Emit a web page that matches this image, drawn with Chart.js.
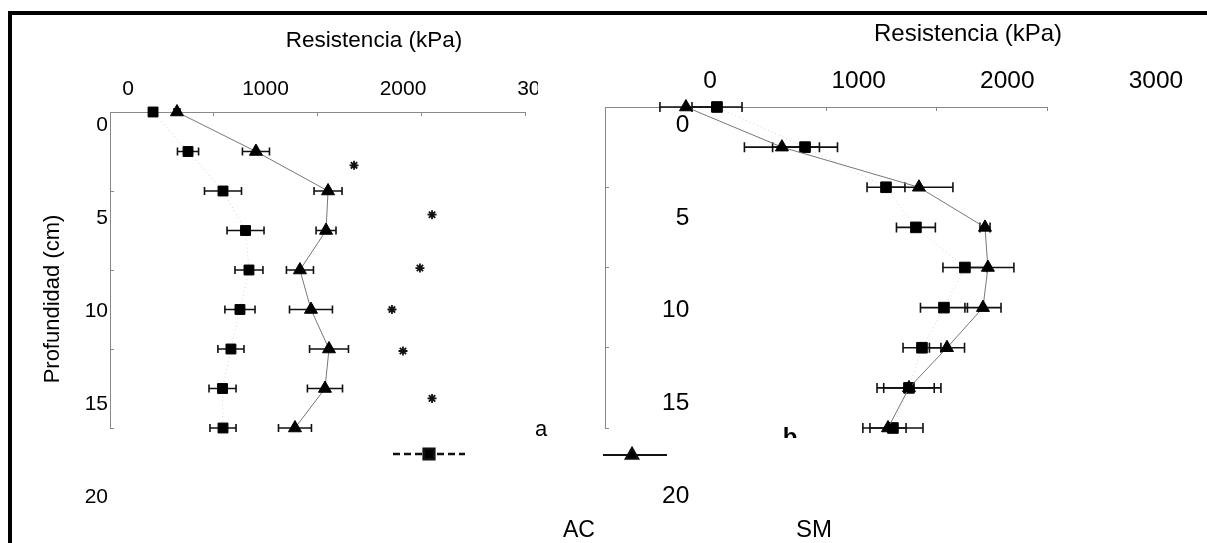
<!DOCTYPE html>
<html>
<head>
<meta charset="utf-8">
<script src="https://cdn.jsdelivr.net/npm/chart.js@4.4.1/dist/chart.umd.min.js"></script>
<style>
  html, body { margin: 0; padding: 0; background: #fff; }
  body { width: 1207px; height: 543px; position: relative; overflow: hidden; }
  #frame { position: absolute; left: 8px; top: 11px; width: 1199px; height: 532px;
           border-top: 4px solid #000; border-left: 4px solid #000; box-sizing: border-box; }
  canvas { position: absolute; }
  #panelA { left: 12px; top: 16px; }
  #panelB { left: 528px; top: 16px; }
</style>
</head>
<body>
<div id="frame"></div>
<canvas id="panelA" width="526" height="527"></canvas>
<canvas id="panelB" width="679" height="527"></canvas>
<script>
// sampling depths (cm), same rows in both panels
const depths = [0, 2, 4, 6, 8, 10, 12, 14, 16];

// panel a - resistance (kPa) and error half-width (kPa)
const aSquare = [363, 658, 953, 1143, 1172, 1096, 1020, 949, 953];
const aSquareErr = [0, 89, 156, 156, 118, 127, 110, 114, 110];
const aTriangle = [565, 1231, 1839, 1822, 1602, 1695, 1847, 1813, 1560];
const aTriangleErr = [25, 114, 118, 84, 114, 181, 164, 148, 139];
// significance marks of panel a
const aStarKpa = [2058, 2716, 2614, 2378, 2471, 2716, 2328];
const aStarDepth = [2.7, 5.2, 7.9, 10.0, 12.1, 14.5, 19.4];

// panel b
const bTriangle = [641, 1401, 2486, 3009, 3032, 2993, 2708, 2407, 2241];
const bTriangleErr = [206, 297, 269, 40, 206, 143, 139, 200, 143];
const bSquare = [887, 1584, 2225, 2462, 2850, 2684, 2510, 2407, 2280];
const bSquareErr = [198, 257, 150, 154, 174, 186, 150, 253, 238];

// printed tick labels (the scanned labels sit off the axis marks)
const kpaLabels = [0, 1000, 2000, 3000];
const depthLabels = [0, 5, 10, 15, 20];

Chart.defaults.font.family = "'Liberation Sans', Arial, sans-serif";
Chart.defaults.color = '#000';

function pts(xs, ys) {
  return xs.map((x, i) => ({ x: x, y: ys[i] }));
}

function fixSize(size) {
  return function (scale) {
    if (scale.isHorizontal()) scale.height = size; else scale.width = size;
    scale.paddingLeft = scale.paddingRight = scale.paddingTop = scale.paddingBottom = 0;
  };
}

function forceTicks(values) {
  return function (scale) {
    scale.ticks = values.map(v => ({ value: v }));
  };
}

// horizontal error bars with caps
const errorBars = {
  id: 'errorBars',
  beforeDatasetsDraw(chart) {
    const ctx = chart.ctx;
    const xs = chart.scales.x, ys = chart.scales.y;
    chart.data.datasets.forEach(ds => {
      if (!ds.errX) return;
      ctx.save();
      ctx.strokeStyle = '#111';
      ctx.lineWidth = 1.6;
      ds.data.forEach((p, j) => {
        const e = ds.errX[j];
        if (!e) return;
        const x0 = xs.getPixelForValue(p.x - e);
        const x1 = xs.getPixelForValue(p.x + e);
        const y = ys.getPixelForValue(p.y);
        const c = ds.capSize || 4;
        ctx.beginPath();
        ctx.moveTo(x0, y); ctx.lineTo(x1, y);
        ctx.moveTo(x0, y - c); ctx.lineTo(x0, y + c);
        ctx.moveTo(x1, y - c); ctx.lineTo(x1, y + c);
        ctx.stroke();
      });
      ctx.restore();
    });
  }
};

// loose text and legend keys of the figure
function figText(items) {
  return {
    id: 'figText',
    afterDraw(chart) {
      const ctx = chart.ctx;
      items.forEach(it => {
        ctx.save();
        if (it.marker) {
          ctx.strokeStyle = '#111';
          ctx.fillStyle = '#000';
          ctx.lineWidth = it.lw;
          ctx.setLineDash(it.dash || []);
          ctx.beginPath();
          ctx.moveTo(it.x0, it.y); ctx.lineTo(it.x1, it.y);
          ctx.stroke();
          ctx.setLineDash([]);
          Chart.helpers.drawPoint(ctx, { pointStyle: it.marker, radius: it.r, rotation: 0, borderWidth: 1 }, it.x, it.y);
        } else {
          if (it.clip) {
            ctx.beginPath();
            ctx.rect(it.clip[0], it.clip[1], it.clip[2], it.clip[3]);
            ctx.clip();
          }
          ctx.fillStyle = '#000';
          ctx.font = (it.weight || 'normal') + ' ' + it.size + "px 'Liberation Sans', Arial, sans-serif";
          ctx.textAlign = 'center';
          ctx.textBaseline = it.base || 'middle';
          ctx.translate(it.x, it.y);
          if (it.rot) ctx.rotate(it.rot * Math.PI / 180);
          ctx.fillText(it.text, 0, 0);
        }
        ctx.restore();
      });
    }
  };
}

const axisLine = { display: true, color: '#888', width: 1 };
const axisMarks = { drawOnChartArea: false, drawTicks: true, tickLength: -4, color: '#888', lineWidth: 1 };
const noGrid = { display: false, drawTicks: false };

function buildScales(o) {
  return {
    x: { type: 'linear', position: 'top', min: 0, max: 3500, bounds: 'data', weight: 0,
         afterFit: fixSize(0),
         ticks: { display: false, stepSize: 1000, includeBounds: false },
         grid: axisMarks, border: axisLine },
    y: { type: 'linear', position: 'left', min: 0, max: 16, reverse: true, bounds: 'data', weight: 0,
         afterFit: fixSize(0),
         ticks: { display: false, stepSize: 4, includeBounds: false },
         grid: axisMarks, border: axisLine },
    xl: { type: 'linear', position: 'top', min: o.xlMin, max: o.xlMax, bounds: 'data', weight: 1,
          afterFit: fixSize(40), afterBuildTicks: forceTicks(kpaLabels),
          ticks: { autoSkip: false, maxRotation: 0, padding: o.xPad, font: { size: o.tickSize },
                   callback: v => String(v) },
          grid: noGrid, border: { display: false } },
    yl: { type: 'linear', position: 'left', min: o.ylMin, max: o.ylMax, reverse: true, bounds: 'data', weight: 1,
          afterFit: fixSize(50), afterBuildTicks: forceTicks(depthLabels),
          ticks: { autoSkip: false, padding: o.yPad, mirror: o.mirror, crossAlign: o.mirror ? 'far' : 'near',
                   font: { size: o.tickSize }, callback: v => String(v) },
          grid: noGrid, border: { display: false } }
  };
}

const common = {
  responsive: false,
  animation: false,
  events: [],
  plugins: { legend: { display: false }, tooltip: { enabled: false } }
};

new Chart(document.getElementById('panelA'), {
  type: 'scatter',
  data: {
    datasets: [
      { data: pts(aSquare, depths), errX: aSquareErr, capSize: 4, showLine: true, clip: false,
        borderColor: '#cfcfcf', borderWidth: 1, borderDash: [1, 3],
        pointStyle: 'rect', pointRadius: 7, pointBackgroundColor: '#000', pointBorderColor: '#000', pointBorderWidth: 1 },
      { data: pts(aTriangle, depths), errX: aTriangleErr, capSize: 4, showLine: true, clip: false,
        borderColor: '#777', borderWidth: 1,
        pointStyle: 'triangle', pointRadius: 7.5, pointBackgroundColor: '#000', pointBorderColor: '#000', pointBorderWidth: 1 },
      { data: pts(aStarKpa, aStarDepth), showLine: false, clip: false,
        pointStyle: 'star', pointRadius: 4.5, pointBorderColor: '#111', pointBorderWidth: 1.8 }
    ]
  },
  options: Object.assign({}, common, {
    layout: { padding: { left: 48, top: 56, right: 13, bottom: 115 } },
    scales: buildScales({ xlMin: -131, xlMax: 2887, xPad: 10, tickSize: 21,
                          ylMin: -0.698, ylMax: 16.27, yPad: 2, mirror: false })
  }),
  plugins: [errorBars, figText([
    { text: 'Resistencia (kPa)', x: 362, y: 25, size: 22.5 },
    { text: 'Profundidad (cm)', x: 41, y: 283, size: 22, rot: -90 },
    { marker: 'rect', r: 7.5, x: 417, y: 438, x0: 381, x1: 453, lw: 2.6, dash: [7, 4] }
  ])]
});

new Chart(document.getElementById('panelB'), {
  type: 'scatter',
  data: {
    datasets: [
      { data: pts(bTriangle, depths), errX: bTriangleErr, capSize: 5, showLine: true, clip: false,
        borderColor: '#777', borderWidth: 1,
        pointStyle: 'triangle', pointRadius: 7.5, pointBackgroundColor: '#000', pointBorderColor: '#000', pointBorderWidth: 1 },
      { data: pts(bSquare, depths), errX: bSquareErr, capSize: 5, showLine: true, clip: false,
        borderColor: '#d5d5d5', borderWidth: 1, borderDash: [1, 3],
        pointStyle: 'rect', pointRadius: 7.5, pointBackgroundColor: '#000', pointBorderColor: '#000', pointBorderWidth: 1 }
    ]
  },
  options: Object.assign({}, common, {
    layout: { padding: { left: 27, top: 51, right: 160, bottom: 115 } },
    scales: buildScales({ xlMin: -707, xlMax: 2267, xPad: 11.3, tickSize: 24.5,
                          ylMin: -0.970, ylMax: 16.33, yPad: 57, mirror: true })
  }),
  plugins: [errorBars, figText([
    { text: 'Resistencia (kPa)', x: 440, y: 18, size: 24 },
    { text: 'a', x: 13, y: 414, size: 22 },
    { text: 'b', x: 262, y: 429, size: 24, weight: 'bold', base: 'alphabetic', clip: [240, 411, 50, 11] },
    { text: 'AC', x: 51, y: 515, size: 23 },
    { text: 'SM', x: 286, y: 514, size: 24 },
    { marker: 'triangle', r: 7.5, x: 104, y: 439, x0: 75, x1: 139, lw: 1.8 }
  ])]
});
</script>
</body>
</html>
